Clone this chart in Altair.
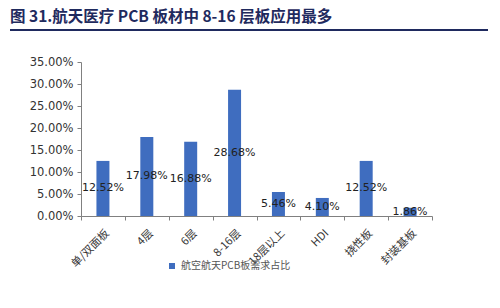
import altair as alt
import pandas as pd

categories = ["单/双面板", "4层", "6层", "8-16层", "18层以上", "HDI", "挠性板", "封装基板"]
values = [0.1252, 0.1798, 0.1688, 0.2868, 0.0546, 0.0410, 0.1252, 0.0186]
series_name = "航空航天PCB板需求占比"
y_ticks = [0, 0.05, 0.10, 0.15, 0.20, 0.25, 0.30, 0.35]
title_text = "图 31.航天医疗 PCB 板材中 8-16 层板应用最多"

df = pd.DataFrame({"cat": categories, "v": values, "s": [series_name] * len(categories)})

BLUE = "#3F6DBF"
NAVY = "#1F2A5E"
FONT = "DejaVu Sans"

x_scale = alt.Scale(paddingInner=0, paddingOuter=0)
x_axis = alt.Axis(labelAngle=315, tickBand="extent", labelFont="Noto Sans CJK SC",
                  labelFontSize=11, labelColor="#333333", domainColor="#808080",
                  tickColor="#808080", tickSize=4, labelPadding=7)
y_scale = alt.Scale(domain=[0, 0.35], nice=False)
y_axis = alt.Axis(values=y_ticks, format=".2%", grid=False, labelFont=FONT,
                  labelFontSize=11.5, labelColor="#333333", domainColor="#808080",
                  tickColor="#808080", tickSize=4, labelPadding=4, labelOverlap=False)

bars = alt.Chart(df).mark_bar(width=13).encode(
    x=alt.X("cat:N", sort=categories, title=None, scale=x_scale, axis=x_axis),
    y=alt.Y("v:Q", scale=y_scale, title=None, axis=y_axis),
    color=alt.Color("s:N", scale=alt.Scale(range=[BLUE]), title=None,
                    legend=alt.Legend(orient="none", legendX=86, legendY=199, symbolType="square",
                                      symbolSize=36, labelFont="Noto Sans CJK SC", labelFontSize=10,
                                      labelColor="#555555", symbolStrokeWidth=0)),
)

labels = alt.Chart(df).transform_calculate(mid="datum.v / 2").mark_text(
    font=FONT, fontSize=11, color="#222222", align="center", baseline="middle"
).encode(
    x=alt.X("cat:N", sort=categories, title=None, scale=x_scale, axis=x_axis),
    y=alt.Y("mid:Q", scale=y_scale, title=None, axis=y_axis),
    text=alt.Text("v:Q", format=".2%"),
)

tdf = pd.DataFrame({"t": [title_text]})
title = alt.Chart(tdf).mark_text(
    font="Noto Sans CJK SC", fontSize=15.5, fontWeight="bold", color=NAVY, align="left", baseline="middle"
).encode(x=alt.value(-71), y=alt.value(-45), text="t:N")

line = alt.Chart(tdf).mark_rule(color=NAVY, strokeWidth=2).encode(
    x=alt.value(-71), x2=alt.value(407), y=alt.value(-32))

chart = alt.layer(bars, labels, title, line).properties(
    width=351, height=154,
    background="white",
    autosize=alt.AutoSizeParams(type="none"),
    padding={"left": 81, "top": 62, "right": 68, "bottom": 92},
).configure_view(strokeWidth=0, stroke="transparent")

chart.save("out.html", embed_options={"renderer": "svg", "actions": False})
